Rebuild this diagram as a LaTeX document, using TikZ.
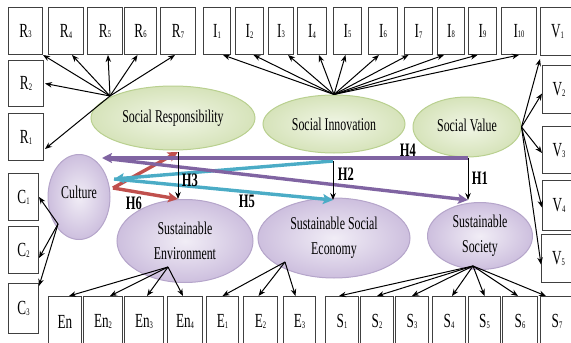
\documentclass[tikz,border=0pt]{standalone}
\usepackage{fontspec}
\setmainfont[FakeStretch=0.66]{Liberation Serif}
\usetikzlibrary{arrows.meta,shapes.geometric}

\definecolor{grfill}{HTML}{F1F6E6}
\definecolor{grout}{HTML}{D6E3BA}
\definecolor{grline}{HTML}{B9D08F}
\definecolor{pufill}{HTML}{F1EDF6}
\definecolor{puout}{HTML}{CDBFDE}
\definecolor{puline}{HTML}{B5A5CA}
\definecolor{hred}{HTML}{C0504D}
\definecolor{hcyan}{HTML}{4BACC6}
\definecolor{hpurple}{HTML}{8064A2}

% item label with small index
\newcommand{\ix}[2]{#1\raisebox{-1pt}{\fontsize{10}{10}\selectfont #2}}

\begin{document}
\begin{tikzpicture}[x=1pt,y=-1pt,
	box/.style={draw=black!75,line width=1pt,fill=white,anchor=north west,inner sep=0pt,
		minimum height=47,font=\fontsize{20}{20}\selectfont},
	gell/.style={ellipse,draw=grline,line width=1pt,inner sep=0pt,inner color=grfill,outer color=grout,
		align=center,font=\fontsize{18}{25}\selectfont},
	pell/.style={ellipse,draw=puline,line width=1pt,inner sep=0pt,inner color=pufill,outer color=puout,
		align=center,font=\fontsize{18}{25}\selectfont},
	meas/.style={-{Stealth[length=7pt,width=5.5pt]},line width=1pt},
	hyp/.style={-{Stealth[length=7pt,width=5.5pt]},line width=0.9pt},
	fat/.style={-{Stealth[length=10pt,width=10pt,inset=2pt]},line width=3.4pt},
	hlab/.style={inner sep=0pt,font=\bfseries\fontsize{19}{19}\selectfont}]

	\useasboundingbox (0,0) rectangle (571,343);

	% top row
	\node[box,minimum width=34] (r3) at (8,7) {\ix{R}{3}};
	\node[box,minimum width=35] (r4) at (48,7) {\ix{R}{4}};
	\node[box,minimum width=35] (r5) at (87,7) {\ix{R}{5}};
	\node[box,minimum width=32] (r6) at (124,7) {\ix{R}{6}};
	\node[box,minimum width=35] (r7) at (160,7) {\ix{R}{7}};
	\node[box,minimum width=27] (i1) at (203,7) {\ix{I}{1}};
	\node[box,minimum width=28] (i2) at (235,7) {\ix{I}{2}};
	\node[box,minimum width=25] (i3) at (268,7) {\ix{I}{3}};
	\node[box,minimum width=29] (i4) at (297,7) {\ix{I}{4}};
	\node[box,minimum width=28] (i5) at (333,7) {\ix{I}{5}};
	\node[box,minimum width=29] (i6) at (368,7) {\ix{I}{6}};
	\node[box,minimum width=28] (i7) at (404,7) {\ix{I}{7}};
	\node[box,minimum width=27] (i8) at (437,7) {\ix{I}{8}};
	\node[box,minimum width=28] (i9) at (468,7) {\ix{I}{9}};
	\node[box,minimum width=35] (i10) at (501,7) {\ix{I}{10}};
	\node[box,minimum width=34,minimum height=48] (v1) at (540,7) {\ix{V}{1}};

	% left column
	\node[box,minimum width=35,minimum height=46] (r2) at (8,60) {\ix{R}{2}};
	\node[box,minimum width=35] (r1) at (8,113) {\ix{R}{1}};
	\node[box,minimum width=30] (c1) at (8,173) {\ix{C}{1}};
	\node[box,minimum width=30] (c2) at (8,226) {\ix{C}{2}};
	\node[box,minimum width=30,minimum height=50] (c3) at (8,283) {\ix{C}{3}};

	% right column
	\node[box,minimum width=33,minimum height=48] (v2) at (542,65) {\ix{V}{2}};
	\node[box,minimum width=33] (v3) at (542,126) {\ix{V}{3}};
	\node[box,minimum width=33,minimum height=50] (v4) at (542,180) {\ix{V}{4}};
	\node[box,minimum width=34,minimum height=48] (v5) at (541,234) {\ix{V}{5}};

	% bottom row
	\node[box,minimum width=33,minimum height=50] (en) at (48,296) {En};
	\node[box,minimum width=39,minimum height=50] (en2) at (83,296) {\ix{En}{2}};
	\node[box,minimum width=39,minimum height=50] (en3) at (124,296) {\ix{En}{3}};
	\node[box,minimum width=35,minimum height=50] (en4) at (167,296) {\ix{En}{4}};
	\node[box,minimum width=32,minimum height=50] (e1) at (206,296) {\ix{E}{1}};
	\node[box,minimum width=34,minimum height=50] (e2) at (243,296) {\ix{E}{2}};
	\node[box,minimum width=32,minimum height=50] (e3) at (283,296) {\ix{E}{3}};
	\node[box,minimum width=33,minimum height=50] (s1) at (325,296) {\ix{S}{1}};
	\node[box,minimum width=33,minimum height=50] (s2) at (360,296) {\ix{S}{2}};
	\node[box,minimum width=33,minimum height=50] (s3) at (395,296) {\ix{S}{3}};
	\node[box,minimum width=33,minimum height=50] (s4) at (432,296) {\ix{S}{4}};
	\node[box,minimum width=32,minimum height=50] (s5) at (468,296) {\ix{S}{5}};
	\node[box,minimum width=35,minimum height=50] (s6) at (502,296) {\ix{S}{6}};
	\node[box,minimum width=33,minimum height=50] (s7) at (540,296) {\ix{S}{7}};

	% constructs
	\node[gell,minimum width=164,minimum height=64] (sr) at (173,118) {\raisebox{3pt}{Social Responsibility}};
	\node[gell,minimum width=142,minimum height=58] (si) at (334,124) {Social Innovation};
	\node[gell,minimum width=108,minimum height=60] (sv) at (467,127) {\raisebox{4pt}{Social Value}};
	\node[pell,minimum width=62,minimum height=85] (cul) at (79,197) {\raisebox{10pt}{Culture}};
	\node[pell,minimum width=136,minimum height=83] (se) at (185,241) {Sustainable\\Environment};
	\node[pell,minimum width=152,minimum height=80] (sse) at (334,238) {Sustainable Social\\Economy};
	\node[pell,minimum width=105,minimum height=67] (ss) at (480,236) {Sustainable\\Society};

	\coordinate (srhub) at (110,96);
	\coordinate (culhub) at (58,224);
	\coordinate (sehub) at (168,267);
	\coordinate (ssehub) at (285,262);
	\coordinate (sshub) at (473,266);

	\path[meas]
	(srhub) edge (r3.south east)
	(srhub) edge ([xshift=6]r4.south)
	(srhub) edge ([xshift=3]r5.south)
	(srhub) edge ([xshift=-3]r6.south)
	(srhub) edge ([xshift=-3]r7.south)
	(srhub) edge ([xshift=1]r2.east)
	(srhub) edge ([xshift=1,yshift=-12]r1.east);
	\path[meas]
	(si.north) edge ([xshift=6]i1.south)
	(si.north) edge ([xshift=4]i2.south)
	(si.north) edge ([xshift=7]i3.south)
	(si.north) edge ([xshift=7]i4.south)
	(si.north) edge ([xshift=-2]i5.south)
	(si.north) edge ([xshift=-4]i6.south)
	(si.north) edge ([xshift=-10]i7.south)
	(si.north) edge ([xshift=-7]i8.south)
	(si.north) edge ([xshift=-5]i9.south)
	(si.north) edge (i10.south);
	\path[meas]
	(sv.east) edge ([yshift=-3]v1.south west)
	(sv.east) edge ([yshift=-4]v2.west)
	(sv.east) edge ([yshift=-3]v3.west)
	(sv.east) edge ([yshift=-2]v4.west)
	(sv.east) edge ([yshift=-6]v5.west);
	\path[meas]
	(culhub) edge (c1.east)
	(culhub) edge ([yshift=-8]c2.east)
	(culhub) edge ([yshift=-3]c3.north east);
	\path[meas]
	(sehub) edge ([xshift=4]en.north)
	(sehub) edge ([xshift=7]en2.north)
	(sehub) edge ([xshift=3]en3.north)
	(sehub) edge ([xshift=-2]en4.north);
	\path[meas]
	(ssehub) edge (e1.north)
	(ssehub) edge ([xshift=-2]e2.north)
	(ssehub) edge ([xshift=-4]e3.north);
	\path[meas]
	(sshub) edge ([xshift=-3]s1.north)
	(sshub) edge (s2.north)
	(sshub) edge (s3.north)
	(sshub) edge ([xshift=3]s4.north)
	(sshub) edge (s5.north)
	(sshub) edge ([xshift=-2]s6.north)
	(sshub) edge ([xshift=-11]s7.north);

	% hypotheses
	\coordinate (sr-b) at (178,152);
	\coordinate (se-t) at (178,199);
	\coordinate (si-b) at (333,161);
	\coordinate (sse-t) at (333,200);
	\coordinate (sv-b) at (468,158);
	\coordinate (ss-t) at (468,200);
	\coordinate (cul-r) at (113,188);
	\coordinate (cul-c) at (114,179);
	\coordinate (cul-p) at (102,158);
	\coordinate (cul-q) at (110,159);

	\draw[fat,hred] (cul-r) -- (sr-b);
	\draw[fat,hred] (cul-r) -- (se-t);
	\draw[fat,hcyan] (si-b) -- (cul-c);
	\draw[fat,hcyan] (cul-c) -- (sse-t);
	\draw[fat,hpurple] (sv-b) -- (cul-p);
	\draw[fat,hpurple] (cul-q) -- (ss-t);
	\draw[hyp] (sr-b) -- (se-t);
	\draw[hyp] (si-b) -- (sse-t);
	\draw[hyp] (sv-b) -- (ss-t);

	\node[hlab] (h1) at (480,178) {H1};
	\node[hlab] (h2) at (346,174) {H2};
	\node[hlab] (h3) at (190,180) {H3};
	\node[hlab] (h4) at (408,150) {H4};
	\node[hlab] (h5) at (247,201) {H5};
	\node[hlab] (h6) at (134,203) {H6};
\end{tikzpicture}
\end{document}
